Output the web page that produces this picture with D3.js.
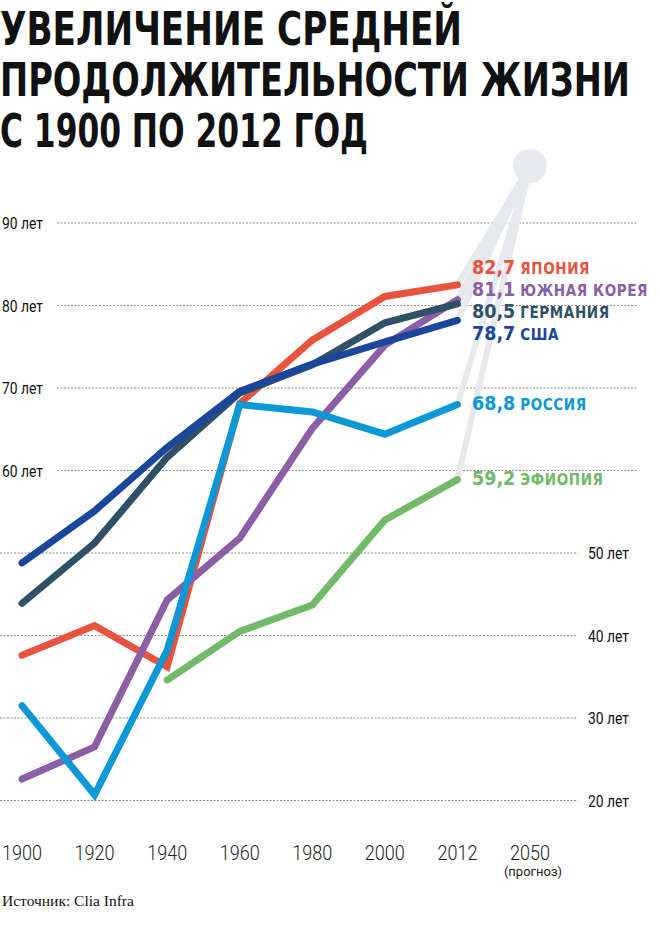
<!DOCTYPE html>
<meta charset="utf-8">
<html>
<head>
	<script src="https://cdn.jsdelivr.net/npm/d3@7"></script>
	<style>
		body { margin: 0; background: #fff; }
		svg { display: block; }
	</style>
</head>
<body>
	<svg id="chart"></svg>
	<script>
		// categories on the x axis (2050 is the forecast point, no values)
		var years = ["1900", "1920", "1940", "1960", "1980", "2000", "2012", "2050"];

		// life expectancy (null = no data)
		var japan    = [37.6, 41.2, 36.2, 68.1, 75.8, 81.1, 82.5];
		var korea    = [22.6, 26.5, 44.3, 51.8, 65.1, 75.2, 80.7];
		var russia   = [31.5, 20.7, 38.2, 68.0, 67.1, 64.4, 68.0];
		var ethiopia = [null, null, 34.6, 40.5, 43.7, 54.0, 58.9];
		var germany  = [43.9, 51.2, 61.6, 69.4, 72.8, 77.9, 80.2];
		var usa      = [48.8, 55.1, 62.8, 69.6, 72.9, 75.6, 78.2];

		var countryNames = ["ЯПОНИЯ", "ЮЖНАЯ КОРЕЯ", "РОССИЯ", "ЭФИОПИЯ", "ГЕРМАНИЯ", "США"];
		var labelValues  = ["82,7", "81,1", "68,8", "59,2", "80,5", "78,7"];
		var colors       = ["#e9533e", "#8a5fa6", "#0a98d6", "#72b96a", "#2f5166", "#1a479b"];
		var seriesValues = [japan, korea, russia, ethiopia, germany, usa];

		var upperTicks = [60, 70, 80, 90];
		var lowerTicks = [20, 30, 40, 50];

		var titleLines = ["УВЕЛИЧЕНИЕ СРЕДНЕЙ", "ПРОДОЛЖИТЕЛЬНОСТИ ЖИЗНИ", "С 1900 ПО 2012 ГОД"];
		var source = "Источник: Clia Infra";

		var svgWidth = 660;
		var svgHeight = 948;
		var narrow = "'Liberation Sans Narrow', 'DejaVu Sans Condensed', sans-serif";
		var cond = "'DejaVu Sans Condensed', 'Liberation Sans Narrow', sans-serif";
		var light = "Roboto, 'DejaVu Sans', sans-serif";

		var svg = d3.select("#chart")
			.attr("width", svgWidth)
			.attr("height", svgHeight);

		var x = d3.scalePoint()
			.domain(years)
			.range([22, 530]);

		var y = d3.scaleLinear()
			.domain([20, 90])
			.range([800.5, 223]);

		// title
		var titleWidths = [462, 630, 368];
		svg.append("g").selectAll("text")
			.data(titleLines)
			.enter().append("text")
				.attr("x", 0)
				.attr("y", function(d, i) { return 45 + i * 51; })
				.attr("textLength", function(d, i) { return titleWidths[i]; })
				.attr("lengthAdjust", "spacingAndGlyphs")
				.style("font-family", narrow)
				.style("font-weight", "bold")
				.style("font-size", "46px")
				.style("fill", "#111")
				.text(function(d) { return d; });

		// gridlines: upper ones labelled on the left, lower ones on the right
		var grid = svg.append("g").attr("class", "grid");
		grid.selectAll(".up").data(upperTicks).enter().append("line")
			.attr("x1", 57).attr("x2", 638)
			.attr("y1", function(d) { return y(d); })
			.attr("y2", function(d) { return y(d); });
		grid.selectAll(".low").data(lowerTicks).enter().append("line")
			.attr("x1", 0).attr("x2", 578)
			.attr("y1", function(d) { return y(d); })
			.attr("y2", function(d) { return y(d); });
		grid.selectAll("line")
			.style("stroke", "#8a8a8a")
			.style("stroke-width", 1)
			.style("stroke-dasharray", "2,1.5");

		var tickLabels = svg.append("g");
		tickLabels.selectAll(".tu").data(upperTicks).enter().append("text")
			.attr("x", 2)
			.attr("y", function(d) { return y(d) + 6; })
			.text(function(d) { return d + " лет"; });
		tickLabels.selectAll(".tl").data(lowerTicks).enter().append("text")
			.attr("x", 588)
			.attr("y", function(d) { return y(d) + 6; })
			.text(function(d) { return d + " лет"; });
		tickLabels.selectAll("text")
			.attr("textLength", 41)
			.attr("lengthAdjust", "spacingAndGlyphs")
			.style("font-family", light)
			.style("font-size", "16.5px")
			.style("fill", "#111");

		// x axis labels
		svg.append("g").selectAll("text")
			.data(years)
			.enter().append("text")
				.attr("x", function(d) { return x(d) - 20; })
				.attr("y", 860)
				.attr("textLength", 40)
				.attr("lengthAdjust", "spacingAndGlyphs")
				.style("font-family", light)
				.style("font-weight", 300)
				.style("font-size", "21px")
				.style("fill", "#222")
				.text(function(d) { return d; });
		svg.append("text")
			.attr("x", x("2050") + 3)
			.attr("y", 876)
			.attr("text-anchor", "middle")
			.style("font-family", light)
			.style("font-size", "13px")
			.style("fill", "#222")
			.text("(прогноз)");

		// grey fan from the forecast point to every 2012 end
		var lastYear = "2012";
		var forecastY = 166;
		var fan = svg.append("g");
		fan.selectAll("line")
			.data(seriesValues)
			.enter().append("line")
				.attr("x1", x("2050"))
				.attr("y1", forecastY)
				.attr("x2", x(lastYear))
				.attr("y2", function(d) { return y(d[d.length - 1]); })
				.style("stroke", "#e6e9ed")
				.style("stroke-width", 6);
		fan.append("circle")
			.attr("cx", x("2050"))
			.attr("cy", forecastY)
			.attr("r", 17)
			.style("fill", "#e6e9ed");

		var line = d3.line()
			.defined(function(d) { return d != null; })
			.x(function(d, i) { return x(years[i]); })
			.y(function(d) { return y(d); });

		// drawing order so that overlaps look like the original
		var order = [3, 0, 1, 2, 4, 5];
		svg.append("g").selectAll("path")
			.data(order)
			.enter().append("path")
				.attr("d", function(k) { return line(seriesValues[k]); })
				.style("fill", "none")
				.style("stroke", function(k) { return colors[k]; })
				.style("stroke-width", 7)
				.style("stroke-linecap", "round")
				.style("stroke-linejoin", "miter");

		// end labels: start at the line end, then push apart so they don't collide
		var labelPos = seriesValues.map(function(d, i) {
			return { i: i, y: y(d[d.length - 1]) };
		}).sort(function(a, b) { return a.y - b.y; });
		var gap = 22;
		for (var iter = 0; iter < 60; iter++) {
			for (var j = 1; j < labelPos.length; j++) {
				var diff = labelPos[j].y - labelPos[j - 1].y;
				if (diff < gap) {
					var push = (gap - diff) / 2;
					labelPos[j].y += push;
					labelPos[j - 1].y -= push;
				}
			}
		}

		var labels = svg.append("g").selectAll("g")
			.data(labelPos)
			.enter().append("g")
				.attr("transform", function(d) { return "translate(472," + (d.y + 5) + ")"; });
		labels.append("text")
			.attr("class", "num")
			.style("font-family", cond)
			.style("font-weight", "bold")
			.style("font-size", "19.5px")
			.style("fill", function(d) { return colors[d.i]; })
			.text(function(d) { return labelValues[d.i]; });
		labels.append("text")
			.attr("x", function() {
				return this.parentNode.querySelector(".num").getComputedTextLength() + 5;
			})
			.style("font-family", cond)
			.style("font-weight", "bold")
			.style("font-size", "15px")
			.style("letter-spacing", "0.6px")
			.style("fill", function(d) { return colors[d.i]; })
			.text(function(d) { return countryNames[d.i]; });

		// source
		svg.append("text")
			.attr("x", 2)
			.attr("y", 906)
			.style("font-family", "'Liberation Serif', 'DejaVu Serif', serif")
			.style("font-size", "15.5px")
			.style("fill", "#111")
			.text(source);
	</script>
</body>
</html>
